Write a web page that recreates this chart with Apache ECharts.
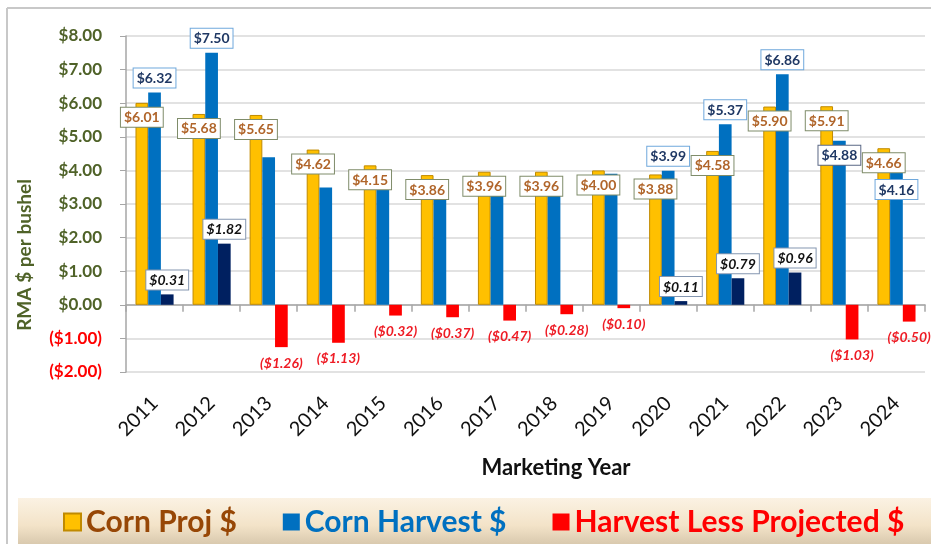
<!DOCTYPE html>
<html><head><meta charset="utf-8">
<script src="https://cdn.jsdelivr.net/npm/echarts@6/dist/echarts.min.js"></script>
<style>html,body{margin:0;padding:0;background:#fff}#c{width:931px;height:544px}</style>
</head><body><div id="c"></div>
<script>
const years = ['2011','2012','2013','2014','2015','2016','2017','2018','2019','2020','2021','2022','2023','2024'];
const cornProj = [6.01,5.68,5.65,4.62,4.15,3.86,3.96,3.96,4.00,3.88,4.58,5.90,5.91,4.66];
const cornHarvest = [6.32,7.50,4.39,3.49,3.83,3.49,3.49,3.68,3.90,3.99,5.37,6.86,4.88,4.16];
const harvestLessProjected = [0.31,1.82,-1.26,-1.13,-0.32,-0.37,-0.47,-0.28,-0.10,0.11,0.79,0.96,-1.03,-0.50];
const seriesNames = ['Corn Proj $','Corn Harvest $','Harvest Less Projected $'];

const FONT = 'Lato';
function money(v){ v = Number(v); return v < 0 ? '($' + Math.abs(v).toFixed(2) + ')' : '$' + v.toFixed(2); }
function fmt(p){ return money(p.value); }

// which harvest bars carry a label, and where
const harvestLabelPos = {0:['top',5],1:['top',5],9:['top',5],10:['top',5],11:['top',5],12:['insideTop',5],13:['insideTop',15]};
const harvestLabelBorder = {12:'#5A6785'};

const boxLabel = {fontFamily: FONT, fontSize: 14, fontWeight: 'bold', backgroundColor: '#fff', borderWidth: 1, padding: [2,3,1,3], lineHeight: 16};

const harvestData = cornHarvest.map((v, i) => {
  const p = harvestLabelPos[i];
  if (!p) return v;
  return {value: v, label: {show: true, position: p[0], distance: p[1], borderColor: harvestLabelBorder[i] || '#6FA8DC'}};
});
const diffData = harvestLessProjected.map(v => v >= 0
  ? {value: v, itemStyle: {color: '#002060'}, label: {position: 'top', distance: 5, color: '#111', backgroundColor: '#fff', borderColor: '#8496B0', borderWidth: 1, padding: [2,3,1,3]}}
  : {value: v, label: {position: 'bottom', distance: 8, color: '#EE1C25'}});

const chart = echarts.init(document.getElementById('c'));
chart.setOption({
  animation: false,
  backgroundColor: '#fff',
  grid: {left: 126, right: 6, top: 36, bottom: 172, containLabel: false},
  graphic: [
    {type: 'rect', z: -1, shape: {x: 18, y: 498, width: 913, height: 46},
     style: {fill: new echarts.graphic.LinearGradient(0,0,0,1,[{offset:0,color:'#FBF2E3'},{offset:0.6,color:'#F3E3C8'},{offset:1,color:'#D9C9AE'}])}},
    {type: 'line', shape: {x1: 7, y1: 8, x2: 931, y2: 8}, style: {stroke: '#C8C8C8', lineWidth: 2}},
    {type: 'line', shape: {x1: 7, y1: 8, x2: 7, y2: 544}, style: {stroke: '#C8C8C8', lineWidth: 2}},
    {type: 'text', x: 25, y: 255, rotation: Math.PI/2,
     style: {text: 'RMA $ per bushel', fill: '#4F6228', font: 'bold 19px ' + FONT, align: 'center', verticalAlign: 'middle'}},
    {type: 'text', x: 556, y: 468,
     style: {text: 'Marketing Year', fill: '#111', font: 'bold 22px ' + FONT, align: 'center', verticalAlign: 'middle'}}
  ],
  legend: {
    left: 58, top: 502, itemWidth: 17, itemHeight: 17, itemGap: 46, icon: 'rect',
    textStyle: {fontFamily: FONT, fontSize: 30, fontWeight: 'bold'},
    data: [
      {name: seriesNames[0], textStyle: {color: '#974706'}},
      {name: seriesNames[1], textStyle: {color: '#0070C0'}},
      {name: seriesNames[2], textStyle: {color: '#FF0000'}}
    ]
  },
  xAxis: [
    {type: 'category', data: years, axisLine: {onZero: true, lineStyle: {color: '#A6A6A6', width: 1.5}},
     axisTick: {show: true, length: 7, lineStyle: {color: '#A6A6A6', width: 1.5}}, axisLabel: {show: false}},
    {type: 'category', data: years, position: 'bottom', axisLine: {show: false, onZero: false}, axisTick: {show: false},
     axisLabel: {rotate: 45, margin: 28, fontSize: 20, color: '#111', fontFamily: FONT}}
  ],
  yAxis: {
    type: 'value', min: -2, max: 8, interval: 1,
    axisLine: {show: true, lineStyle: {color: '#A6A6A6', width: 1.5}},
    axisTick: {show: true, length: 6, lineStyle: {color: '#A6A6A6'}},
    splitLine: {lineStyle: {color: '#D9D9D9', width: 1.5}},
    axisLabel: {formatter: money, margin: 24, fontSize: 17, fontWeight: 'bold', fontFamily: FONT,
      color: v => Number(v) < 0 ? '#FF0000' : '#4F6228'}
  },
  series: [
    {name: seriesNames[0], type: 'bar', data: cornProj, barWidth: 12.7, barGap: '0%',
     itemStyle: {color: '#FFC000', borderColor: '#C08A00', borderWidth: 1},
     label: Object.assign({show: true, position: 'insideTop', distance: 5, formatter: fmt, color: '#B0652A', borderColor: '#7F8C6A'}, boxLabel)},
    {name: seriesNames[1], type: 'bar', data: harvestData, barWidth: 12.7, barGap: '0%',
     itemStyle: {color: '#0070C0'},
     label: Object.assign({show: false, formatter: fmt, color: '#1F3864'}, boxLabel)},
    {name: seriesNames[2], type: 'bar', data: diffData, barWidth: 12.7, barGap: '0%',
     itemStyle: {color: '#FF0000'},
     label: {show: true, formatter: fmt, fontFamily: FONT, fontSize: 14, fontWeight: 'bold', fontStyle: 'italic', lineHeight: 16}}
  ]
});
</script></body></html>
